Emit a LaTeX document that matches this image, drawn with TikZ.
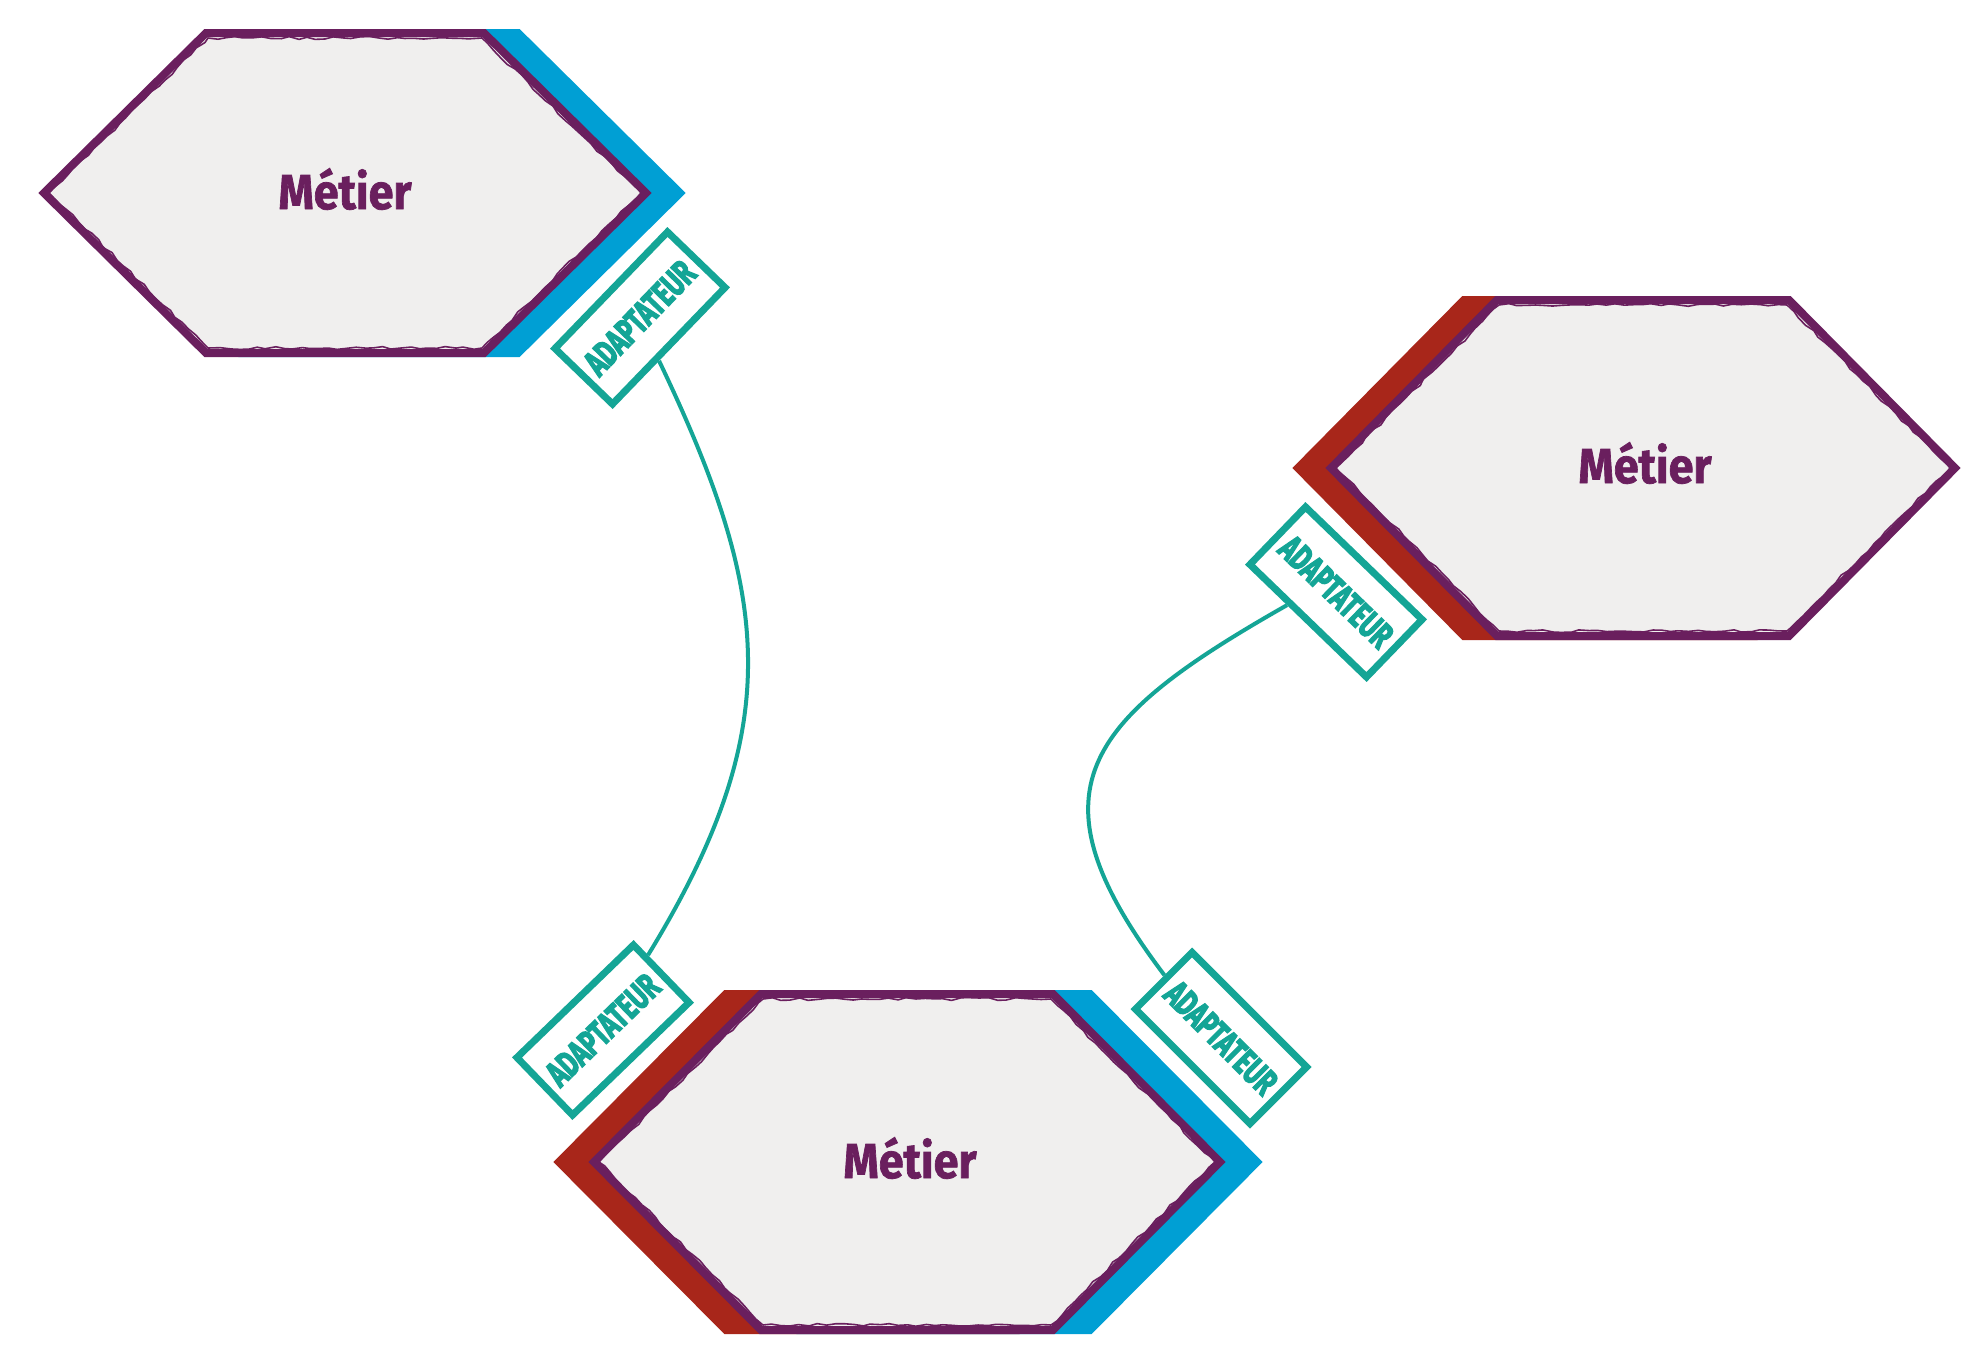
\documentclass[tikz,border=0pt]{standalone}
\usepackage{fontspec}
\setmainfont{Fira Sans}
\newfontfamily\adfont{Fira Sans Bold}[FakeBold=4]
\newfontfamily\metfont{Fira Sans Bold}[FakeBold=1.5]
\usetikzlibrary{calc,decorations.pathmorphing}
\definecolor{hexpurple}{HTML}{6A1F5E}
\definecolor{hexblue}{HTML}{009FD4}
\definecolor{hexred}{HTML}{A8261A}
\definecolor{hexgray}{HTML}{F0EFEE}
\definecolor{adteal}{HTML}{14A596}
\newcommand\myhex[6]{%
  \path[#1] ({#2-#4},#3) -- ({#2-#5},{#3-#6}) -- ({#2+#5},{#3-#6}) -- ({#2+#4},#3)
     -- ({#2+#5},{#3+#6}) -- ({#2-#5},{#3+#6}) -- cycle;}
\newcommand\adtext{\resizebox{142pt}{25pt}{\adfont ADAPTATEUR}}
\newcommand\mettext{\resizebox{133pt}{41pt}{\metfont Métier}}
\begin{document}
\begin{tikzpicture}[x=1pt,y=-1pt,
  hexmain/.style={fill=hexgray, draw=hexpurple, line width=8pt, line join=miter},
  hexrough/.style={draw=hexpurple, line width=1.6pt, decorate,
     decoration={random steps, segment length=9pt, amplitude=1.4pt}},
  shadowblue/.style={fill=hexblue, draw=hexblue, line width=8pt},
  shadowred/.style={fill=hexred, draw=hexred, line width=8pt},
  adapter/.style={draw=adteal, line width=7pt, fill=white, minimum width=162pt,
     minimum height=80pt, inner sep=0pt, text=adteal},
  link/.style={draw=adteal, line width=4pt},
  metier/.style={text=hexpurple, inner sep=0pt}]
\pgfmathsetseed{7}
\useasboundingbox[fill=white] (0,0) rectangle (1974,1360);
% hexagon 1 (top left)
\myhex{shadowblue}{379}{193}{301}{139}{160}
\myhex{hexmain}{345}{193}{301}{139}{160}
\myhex{hexrough}{345}{193}{296}{137}{155}
\node[metier] (m1) at (345,189) {\mettext};
% hexagon 2 (right)
\myhex{shadowred}{1610}{468}{312}{146}{168}
\myhex{hexmain}{1643}{468}{312}{146}{168}
\myhex{hexrough}{1643}{468}{307}{144}{163}
\node[metier] (m2) at (1645,463) {\mettext};
% hexagon 3 (bottom)
\myhex{shadowred}{872}{1162}{313}{146}{168}
\myhex{shadowblue}{944}{1162}{313}{146}{168}
\myhex{hexmain}{907}{1162}{313}{146}{168}
\myhex{hexrough}{907}{1162}{308}{144}{163}
\node[metier] (m3) at (910,1158) {\mettext};
% adapters
\node[adapter, rotate=46] (b1) at (640,318) {\adtext};
\node[adapter, rotate=44] (b2) at (603,1030) {\adtext};
\node[adapter, rotate=-44] (b3) at (1336,592) {\adtext};
\node[adapter, rotate=-45] (b4) at (1221,1038) {\adtext};
% connectors
\draw[link] (b1.248) .. controls (770,593) and (789,725) .. (b2.15);
\draw[link] (b3.239) .. controls (1083,721) and (1025,791) .. (b4.177);
\end{tikzpicture}
\end{document}
